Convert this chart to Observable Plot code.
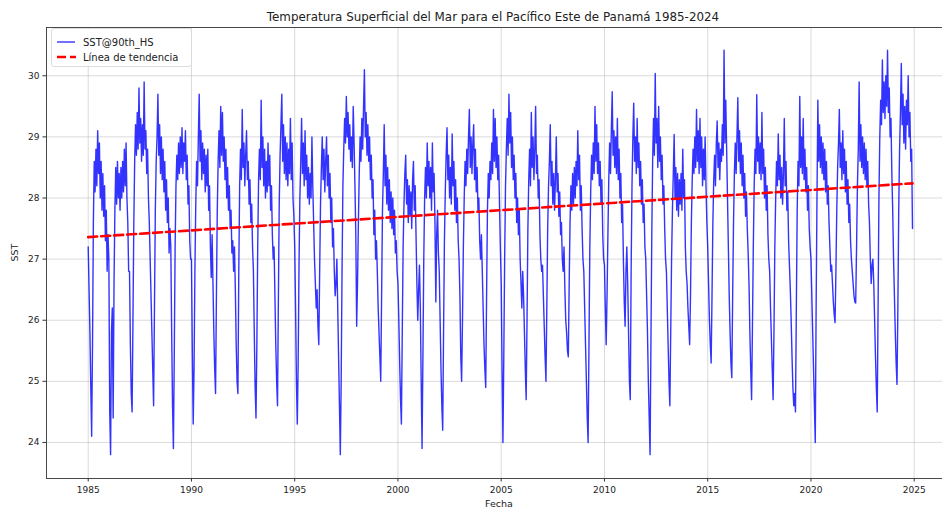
<!DOCTYPE html>
<html><head><meta charset="utf-8">
<script src="https://cdn.jsdelivr.net/npm/d3@7"></script>
<script src="https://cdn.jsdelivr.net/npm/@observablehq/plot@0.6"></script>
<style>html,body{margin:0;padding:0;background:#fff}svg{display:block}</style>
</head><body><div id="chart"></div>
<script>
// Semi-monthly readings per year (1st and 16th of each month)
const sst1985 = [27.2, 26.5, 25.8, 24.9, 24.1, 25.6, 27.6, 28.6, 28.1, 28.8, 28.2, 29.1, 28.4, 28.9, 28.0, 28.6, 27.8, 28.4, 27.7, 28.2, 27.3, 27.8, 26.8, 27.4];
const sst1986 = [27.0, 24.5, 23.8, 25.8, 26.2, 24.4, 26.6, 27.8, 28.5, 27.9, 28.6, 28.0, 28.4, 27.8, 28.5, 28.0, 28.6, 28.1, 28.8, 28.2, 28.9, 28.0, 27.6, 26.8];
const sst1987 = [26.8, 25.6, 24.8, 24.5, 26.0, 27.6, 28.6, 29.2, 28.7, 29.4, 28.8, 29.8, 28.9, 29.3, 28.6, 29.2, 28.7, 29.9, 28.8, 29.1, 28.4, 28.8, 28.0, 27.6];
const sst1988 = [27.0, 26.4, 25.8, 25.2, 24.6, 26.2, 27.8, 28.6, 29.0, 29.7, 28.7, 29.2, 28.4, 29.0, 28.3, 28.8, 28.1, 28.6, 27.8, 28.3, 27.6, 28.0, 27.1, 27.5];
const sst1989 = [27.2, 25.8, 24.6, 23.9, 25.4, 27.2, 28.2, 28.7, 28.3, 28.9, 28.4, 29.0, 28.5, 29.15, 28.4, 28.9, 28.6, 29.1, 28.3, 28.7, 27.9, 28.2, 27.3, 27.0];
const sst1990 = [27.0, 25.5, 24.3, 25.2, 26.8, 27.9, 28.6, 28.2, 29.0, 29.7, 28.6, 29.1, 28.3, 28.9, 28.4, 28.8, 28.1, 28.7, 28.2, 28.8, 27.8, 28.2, 27.2, 26.7];
const sst1991 = [27.4, 26.6, 25.8, 25.2, 24.8, 26.4, 27.8, 28.6, 29.1, 28.5, 29.5, 28.7, 29.4, 28.6, 29.0, 28.3, 28.8, 28.0, 28.5, 27.8, 28.2, 27.5, 27.8, 27.1];
const sst1992 = [27.3, 26.8, 27.2, 26.5, 25.6, 25.0, 24.8, 26.8, 28.2, 28.8, 28.3, 29.45, 28.5, 28.9, 28.2, 28.7, 29.1, 28.3, 28.6, 27.9, 28.3, 27.6, 27.9, 27.2];
const sst1993 = [26.8, 25.8, 24.9, 24.4, 25.6, 27.2, 28.3, 28.8, 28.3, 29.6, 28.5, 29.0, 28.2, 28.8, 28.0, 28.6, 28.1, 28.9, 28.2, 28.7, 27.8, 28.2, 27.4, 27.0];
const sst1994 = [27.2, 26.4, 25.6, 25.0, 24.6, 26.3, 27.9, 28.7, 29.2, 29.7, 28.6, 29.2, 28.4, 29.0, 28.3, 28.9, 28.2, 28.8, 28.4, 29.3, 28.3, 28.9, 28.0, 27.7];
const sst1995 = [27.2, 26.2, 25.0, 24.3, 25.3, 26.9, 28.0, 28.6, 29.3, 28.4, 28.9, 28.2, 29.1, 28.3, 28.7, 28.0, 28.5, 27.9, 28.4, 28.0, 29.0, 28.2, 27.6, 27.0];
const sst1996 = [26.6, 26.2, 26.5, 25.9, 25.6, 26.8, 27.9, 28.5, 29.0, 28.3, 28.8, 28.1, 28.6, 29.0, 28.2, 28.7, 28.0, 28.4, 27.6, 28.0, 27.2, 27.5, 26.8, 26.4];
const sst1997 = [26.6, 27.0, 26.2, 25.4, 24.6, 23.8, 25.0, 26.8, 28.2, 28.8, 29.3, 28.9, 29.66, 29.0, 29.4, 28.8, 29.2, 28.6, 29.0, 28.5, 29.5, 28.9, 28.2, 27.4];
const sst1998 = [25.9, 26.6, 27.6, 28.4, 29.0, 28.6, 29.3, 28.8, 29.5, 30.1, 29.0, 29.4, 28.7, 29.2, 28.6, 29.0, 28.3, 28.7, 28.0, 28.3, 27.4, 27.8, 27.0, 27.3];
const sst1999 = [26.8, 26.2, 25.8, 25.4, 25.0, 26.4, 27.8, 28.4, 29.2, 28.2, 28.7, 27.9, 28.5, 27.8, 28.3, 27.6, 28.1, 27.5, 28.0, 27.4, 27.8, 27.1, 27.3, 26.8];
const sst2000 = [26.6, 26.0, 25.3, 24.7, 24.3, 25.8, 27.2, 27.9, 28.4, 28.7, 27.9, 28.3, 27.6, 28.2, 27.7, 28.1, 27.5, 28.3, 28.6, 27.8, 28.2, 27.4, 26.6, 26.0];
const sst2001 = [26.5, 26.9, 26.2, 25.0, 23.9, 25.4, 27.0, 28.0, 28.5, 28.0, 28.9, 28.2, 28.6, 28.0, 28.5, 27.8, 28.9, 28.1, 28.4, 27.6, 26.3, 27.4, 27.8, 27.1];
const sst2002 = [26.8, 26.0, 25.2, 24.6, 24.2, 25.8, 27.3, 28.1, 28.7, 29.15, 28.3, 28.7, 28.0, 28.5, 27.9, 29.05, 28.2, 28.6, 27.8, 28.3, 27.6, 28.0, 27.3, 27.0];
const sst2003 = [26.4, 25.4, 25.0, 26.0, 27.2, 28.0, 28.6, 28.2, 28.8, 28.4, 29.0, 29.45, 28.5, 29.0, 28.4, 28.9, 29.2, 28.3, 28.8, 28.1, 28.5, 27.8, 28.0, 27.3];
const sst2004 = [27.0, 27.4, 26.8, 26.2, 25.6, 25.2, 24.9, 26.4, 27.8, 28.4, 28.0, 28.6, 28.3, 28.9, 28.4, 29.45, 28.6, 29.3, 28.5, 29.0, 28.3, 28.7, 27.9, 27.2];
const sst2005 = [26.6, 25.2, 24.0, 25.4, 27.0, 28.2, 28.8, 29.3, 28.7, 29.7, 28.9, 29.4, 28.5, 29.0, 28.3, 28.7, 28.0, 28.4, 27.6, 28.0, 27.4, 27.8, 27.0, 26.6];
const sst2006 = [26.2, 26.8, 26.4, 25.8, 25.2, 24.7, 26.0, 27.5, 28.3, 28.8, 28.2, 29.4, 28.5, 29.0, 28.3, 28.8, 29.5, 28.4, 28.7, 28.0, 28.3, 27.4, 27.0, 26.8];
const sst2007 = [26.9, 26.4, 25.9, 25.4, 25.0, 26.2, 27.5, 28.2, 28.6, 29.2, 28.2, 28.6, 27.9, 28.4, 27.8, 28.3, 29.0, 28.1, 28.4, 27.7, 28.1, 27.4, 27.6, 27.0];
const sst2008 = [26.8, 27.2, 26.5, 26.0, 25.8, 25.5, 25.4, 26.6, 27.6, 28.2, 27.8, 28.4, 27.9, 28.5, 28.0, 28.6, 28.2, 29.1, 28.3, 28.7, 27.8, 28.2, 27.5, 27.0];
const sst2009 = [26.8, 26.2, 25.6, 25.0, 24.4, 24.0, 25.6, 27.2, 28.1, 28.7, 28.3, 28.9, 28.4, 29.5, 28.6, 29.2, 28.4, 28.9, 28.2, 28.6, 27.9, 28.3, 27.4, 27.0];
const sst2010 = [26.9, 26.2, 25.6, 26.4, 27.4, 28.3, 28.9, 28.4, 29.1, 29.74, 28.7, 29.1, 28.5, 29.0, 28.4, 29.3, 28.3, 28.8, 28.0, 28.4, 27.6, 27.9, 27.0, 26.3];
const sst2011 = [25.9, 26.8, 27.2, 26.6, 25.8, 25.0, 24.7, 26.8, 28.2, 29.0, 29.55, 28.6, 29.0, 28.4, 29.3, 28.5, 28.9, 28.2, 28.6, 27.9, 28.3, 27.6, 27.9, 27.2];
const sst2012 = [27.0, 26.4, 25.8, 25.0, 24.4, 23.8, 25.6, 27.4, 28.6, 29.3, 28.7, 30.04, 28.9, 29.3, 28.5, 29.5, 28.6, 29.0, 28.3, 28.7, 27.9, 28.2, 27.5, 27.0];
const sst2013 = [26.8, 26.2, 25.6, 25.0, 24.6, 25.8, 27.0, 27.8, 28.4, 29.04, 28.0, 28.5, 27.8, 28.4, 27.7, 28.3, 27.9, 28.4, 27.8, 28.8, 28.0, 28.3, 27.2, 26.8];
const sst2014 = [26.6, 26.2, 25.9, 25.6, 26.4, 27.6, 28.3, 28.8, 28.4, 29.0, 28.5, 29.45, 28.6, 29.1, 28.4, 29.3, 28.5, 29.0, 28.2, 28.8, 28.3, 29.0, 28.2, 27.6];
const sst2015 = [27.2, 26.6, 26.0, 25.6, 25.3, 26.4, 27.6, 28.3, 28.7, 28.2, 28.9, 29.26, 28.5, 28.9, 28.3, 28.8, 28.6, 29.2, 28.7, 30.42, 28.9, 29.6, 28.8, 28.0];
const sst2016 = [27.2, 26.4, 25.8, 25.3, 25.06, 26.4, 27.6, 28.4, 28.9, 28.4, 29.0, 29.64, 28.6, 29.1, 28.4, 28.9, 28.2, 28.7, 28.0, 28.4, 27.7, 28.1, 27.5, 27.1];
const sst2017 = [26.6, 25.8, 25.2, 24.7, 25.9, 27.2, 28.2, 28.8, 28.4, 29.69, 28.6, 29.0, 28.4, 28.9, 28.3, 29.4, 28.4, 28.8, 28.0, 28.5, 27.8, 28.2, 27.4, 27.0];
const sst2018 = [26.8, 26.2, 25.7, 25.2, 24.7, 25.8, 27.2, 28.0, 28.6, 28.2, 29.05, 28.3, 28.7, 28.0, 28.5, 27.9, 28.4, 29.3, 28.2, 28.6, 27.8, 28.1, 27.3, 26.9];
const sst2019 = [26.5, 26.0, 25.4, 24.9, 24.6, 24.8, 24.5, 26.2, 27.8, 28.6, 28.2, 29.66, 28.5, 29.0, 28.4, 29.3, 28.3, 28.8, 28.1, 28.5, 27.8, 28.2, 27.5, 27.2];
const sst2020 = [27.0, 26.4, 25.8, 25.2, 24.6, 24.0, 26.2, 28.0, 29.6, 28.6, 29.2, 28.5, 29.0, 28.4, 28.9, 28.3, 28.8, 28.1, 28.6, 27.9, 28.2, 27.6, 27.2, 26.8];
const sst2021 = [26.9, 26.6, 26.3, 26.1, 25.96, 26.8, 27.8, 28.5, 28.9, 29.45, 28.5, 28.9, 28.3, 29.1, 28.4, 28.8, 28.1, 28.6, 27.9, 28.3, 27.6, 27.9, 27.3, 27.0];
const sst2022 = [26.8, 26.6, 26.4, 26.3, 26.28, 27.2, 28.2, 28.8, 29.9, 28.6, 29.2, 28.5, 29.0, 28.4, 28.9, 28.3, 28.8, 28.2, 28.6, 27.9, 27.6, 27.0, 26.6, 26.9];
const sst2023 = [27.0, 26.6, 26.0, 25.4, 24.9, 24.5, 26.2, 28.0, 29.0, 29.6, 29.2, 30.26, 29.4, 29.9, 29.3, 30.0, 29.5, 30.42, 29.4, 29.8, 29.0, 29.3, 28.4, 27.8];
const sst2024 = [27.0, 26.4, 25.8, 25.3, 24.95, 26.2, 27.8, 28.8, 29.4, 30.2, 29.2, 29.7, 28.9, 29.5, 28.8, 29.6, 29.2, 30.0, 29.0, 29.4, 28.6, 28.8, 27.5];

const years = [1985,1986,1987,1988,1989,1990,1991,1992,1993,1994,1995,1996,1997,1998,1999,2000,2001,2002,2003,2004,2005,2006,2007,2008,2009,2010,2011,2012,2013,2014,2015,2016,2017,2018,2019,2020,2021,2022,2023,2024];
const sstByYear = [sst1985,sst1986,sst1987,sst1988,sst1989,sst1990,sst1991,sst1992,sst1993,sst1994,sst1995,sst1996,sst1997,sst1998,sst1999,sst2000,sst2001,sst2002,sst2003,sst2004,sst2005,sst2006,sst2007,sst2008,sst2009,sst2010,sst2011,sst2012,sst2013,sst2014,sst2015,sst2016,sst2017,sst2018,sst2019,sst2020,sst2021,sst2022,sst2023,sst2024];

const trendYears = [1985.0, 2024.92];
const trendValues = [27.36, 28.24];

const xTicks = [1985, 1990, 1995, 2000, 2005, 2010, 2015, 2020, 2025];
const yTicks = [24, 25, 26, 27, 28, 29, 30];

const titleText = "Temperatura Superficial del Mar para el Pacífico Este de Panamá 1985-2024";
const xLabel = "Fecha";
const yLabel = "SST";
const legendLabels = ["SST@90th_HS", "Línea de tendencia"];

const series = sstByYear.flatMap((vals, k) => vals.map((v, i) => ({t: years[k] + i / 24, v})));
const trend = trendYears.map((t, i) => ({t, v: trendValues[i]}));

const xDomain = [1982.98, 2026.37];
const yDomain = [23.41, 30.79];
const axisColor = "#333";

const chart = Plot.plot({
  width: 942, height: 508,
  marginLeft: 46, marginRight: 0, marginTop: 27, marginBottom: 30,
  style: {fontFamily: "DejaVu Sans", fontSize: "9px", color: "#222", background: "#fff", overflow: "visible"},
  x: {domain: xDomain},
  y: {domain: yDomain},
  marks: [
    Plot.gridX(xTicks, {stroke: "#b0b0b0", strokeOpacity: 0.6, strokeWidth: 0.8}),
    Plot.gridY(yTicks, {stroke: "#b0b0b0", strokeOpacity: 0.6, strokeWidth: 0.8}),
    Plot.line(series, {x: "t", y: "v", stroke: "#0000ff", strokeWidth: 1.4, strokeOpacity: 0.8}),
    Plot.line(trend, {x: "t", y: "v", stroke: "#ff0000", strokeWidth: 2.6, strokeDasharray: "9,4"}),
    Plot.ruleX([xDomain[0]], {stroke: axisColor, strokeWidth: 0.9}),
    Plot.ruleY([yDomain[0]], {stroke: axisColor, strokeWidth: 0.9}),
    Plot.ruleY([yDomain[1]], {stroke: axisColor, strokeWidth: 0.9}),
    Plot.axisX(xTicks, {tickFormat: d => String(d), tickSize: 3.5, tickPadding: 5, label: null, stroke: axisColor, fill: "#222"}),
    Plot.axisY(yTicks, {tickFormat: d => String(d), tickSize: 3.5, tickPadding: 3.5, label: null, stroke: axisColor, fill: "#222"})
  ]
});

document.getElementById("chart").appendChild(chart);

const svg = d3.select(chart);
const font = "DejaVu Sans";
svg.append("text").attr("x", 493).attr("y", 21).attr("text-anchor", "middle")
  .attr("font-family", font).attr("font-size", "11.9px").attr("fill", "#222").text(titleText);
svg.append("text").attr("x", 499).attr("y", 506.5).attr("text-anchor", "middle")
  .attr("font-family", font).attr("font-size", "9.5px").attr("fill", "#222").text(xLabel);
svg.append("text").attr("transform", "translate(15,252.5) rotate(-90)").attr("text-anchor", "middle")
  .attr("dy", "0.35em").attr("font-family", font).attr("font-size", "9.5px").attr("fill", "#222").text(yLabel);

const lg = svg.append("g").attr("text-anchor", "start");
lg.append("rect").attr("x", 51.5).attr("y", 28.5).attr("width", 140).attr("height", 38).attr("rx", 2.5)
  .attr("fill", "#fff").attr("fill-opacity", 0.85).attr("stroke", "#d4d4d4").attr("stroke-width", 0.8);
lg.append("line").attr("x1", 57).attr("x2", 75).attr("y1", 42).attr("y2", 42)
  .attr("stroke", "#0000ff").attr("stroke-opacity", 0.8).attr("stroke-width", 1.4);
lg.append("line").attr("x1", 57).attr("x2", 76).attr("y1", 57).attr("y2", 57)
  .attr("stroke", "#ff0000").attr("stroke-width", 2.6).attr("stroke-dasharray", "9,4");
lg.append("text").attr("x", 83).attr("y", 42).attr("dy", "0.35em").attr("text-anchor", "start").attr("font-family", font)
  .attr("font-size", "10px").attr("fill", "#222").text(legendLabels[0]);
lg.append("text").attr("x", 83).attr("y", 57).attr("dy", "0.35em").attr("text-anchor", "start").attr("font-family", font)
  .attr("font-size", "10px").attr("fill", "#222").text(legendLabels[1]);
</script>
</body></html>
